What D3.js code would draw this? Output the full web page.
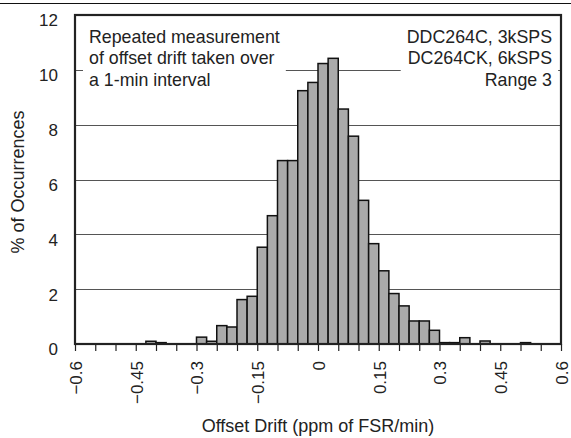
<!DOCTYPE html>
<html>
<head>
<meta charset="utf-8">
<script src="https://cdn.jsdelivr.net/npm/d3@7"></script>
<style>
  html, body { margin: 0; padding: 0; background: #fff; }
  svg { display: block; }
  text { font-family: "Liberation Sans", Arial, Helvetica, sans-serif; fill: #222; }
</style>
</head>
<body>
<svg id="chart" width="571" height="438"></svg>
<script>
// ---- data ----
const binWidth = 0.025;
const binStart = [-0.425, -0.400, -0.300, -0.275, -0.250, -0.225, -0.200, -0.175, -0.150, -0.125,
                  -0.100, -0.075, -0.050, -0.025, 0.000, 0.025, 0.050, 0.075, 0.100, 0.125,
                  0.150, 0.175, 0.200, 0.225, 0.250, 0.275, 0.300, 0.325, 0.350, 0.400, 0.500];
const percent  = [0.10, 0.05, 0.25, 0.10, 0.67, 0.62, 1.62, 1.74, 3.53, 4.68,
                  6.69, 6.69, 9.24, 9.54, 10.23, 10.42, 8.57, 7.58, 5.24, 3.66,
                  2.67, 1.84, 1.39, 0.84, 0.84, 0.50, 0.05, 0.05, 0.23, 0.11, 0.05];
const xTickLabels = [-0.6, -0.45, -0.3, -0.15, 0, 0.15, 0.3, 0.45, 0.6];
const xMinorTicks = [-0.6, -0.55, -0.5, -0.45, -0.4, -0.35, -0.3, -0.25, -0.2, -0.15, -0.1, -0.05,
                     0, 0.05, 0.1, 0.15, 0.2, 0.25, 0.3, 0.35, 0.4, 0.45, 0.5, 0.55, 0.6];
const yTicks = [0, 2, 4, 6, 8, 10, 12];
const gridLevels = [2, 4, 6, 8, 10];
const noteLeft = ["Repeated measurement", "of offset drift taken over", "a 1-min interval"];
const noteRight = ["DDC264C, 3kSPS", "DC264CK, 6kSPS", "Range 3"];
const xTitle = "Offset Drift (ppm of FSR/min)";
const yTitle = "% of Occurrences";

// ---- layout ----
const svg = d3.select("#chart");
const L = 75, R = 561, T = 15, B = 344;
const x = d3.scaleLinear().domain([-0.6, 0.6]).range([L, R]);
const y = d3.scaleLinear().domain([0, 12]).range([B, T]);

// top rule across the figure
svg.append("line").attr("x1", 0).attr("x2", 571).attr("y1", 3.5).attr("y2", 3.5)
  .attr("stroke", "#111").attr("stroke-width", 1);

// grid lines
svg.append("g").selectAll("line").data(gridLevels).join("line")
  .attr("x1", L).attr("x2", R)
  .attr("y1", d => Math.round(y(d)) + 0.5).attr("y2", d => Math.round(y(d)) + 0.5)
  .attr("stroke", "#555").attr("stroke-width", 1);

// annotation boxes (white behind text)
const fs = 17.8;
const gL = svg.append("g");
const gR = svg.append("g");
const baseY = [42.5, 64, 85.5];
const bgL = gL.append("rect").attr("fill", "#fff");
const bgR = gR.append("rect").attr("fill", "#fff");
gL.selectAll("text").data(noteLeft).join("text")
  .attr("x", 89).attr("y", (d, i) => baseY[i])
  .style("font-size", fs + "px").text(d => d);
gR.selectAll("text").data(noteRight).join("text")
  .attr("x", 552).attr("y", (d, i) => baseY[i]).attr("text-anchor", "end")
  .style("font-size", fs + "px").text(d => d);
function fitBg(g, rect) {
  const bb = g.selectAll("text").nodes().map(n => n.getBBox());
  const x0 = d3.min(bb, b => b.x) - 6, x1 = d3.max(bb, b => b.x + b.width) + 6;
  const y0 = d3.min(bb, b => b.y) - 2, y1 = d3.max(bb, b => b.y + b.height) + 2;
  rect.attr("x", x0).attr("y", y0).attr("width", x1 - x0).attr("height", y1 - y0);
}
fitBg(gL, bgL);
fitBg(gR, bgR);

// bars
const bars = binStart.map((s, i) => ({ s, v: percent[i] }));
svg.append("g").selectAll("rect").data(bars).join("rect")
  .attr("x", d => x(d.s))
  .attr("width", d => x(d.s + binWidth) - x(d.s))
  .attr("y", d => y(d.v))
  .attr("height", d => y(0) - y(d.v))
  .attr("fill", "#aaaaaa")
  .attr("stroke", "#111")
  .attr("stroke-width", 1.5);

// x axis ticks (minor every 0.05) and rotated labels
const xAxis = d3.axisBottom(x).tickValues(xMinorTicks).tickSize(7).tickFormat("");
const gx = svg.append("g").attr("transform", `translate(0,${B})`).call(xAxis);
gx.select(".domain").remove();
gx.selectAll(".tick line").attr("stroke", "#222").attr("stroke-width", 1.2);

const fmt = d => d === 0 ? "0" : d3.format("")(d).replace("-", "\u2212");
svg.append("g").selectAll("text").data(xTickLabels).join("text")
  .attr("transform", d => `translate(${x(d) + 1},${361}) rotate(-90)`)
  .attr("text-anchor", "end")
  .attr("dy", "0.35em")
  .style("font-size", "17px")
  .text(fmt);

// y axis labels
const yAxis = d3.axisLeft(y).tickValues(yTicks).tickSize(0).tickPadding(17).tickFormat(d3.format("d"));
const gy = svg.append("g").attr("transform", `translate(${L},0)`).call(yAxis);
gy.select(".domain").remove();
gy.selectAll(".tick text")
  .attr("dy", "0.35em").attr("y", 5)
  .style("font-size", "17px")
  .style("font-family", "\"Liberation Sans\", Arial, Helvetica, sans-serif")
  .attr("fill", "#222");

// plot frame
svg.append("rect").attr("x", L).attr("y", T).attr("width", R - L).attr("height", B - T)
  .attr("fill", "none").attr("stroke", "#222").attr("stroke-width", 2.2);

// titles
svg.append("text").attr("x", 318).attr("y", 432).attr("text-anchor", "middle")
  .style("font-size", "18px").text(xTitle);
svg.append("text").attr("transform", "translate(18,182) rotate(-90)")
  .attr("text-anchor", "middle").attr("dy", "0.35em")
  .style("font-size", "18px").text(yTitle);
</script>
</body>
</html>
